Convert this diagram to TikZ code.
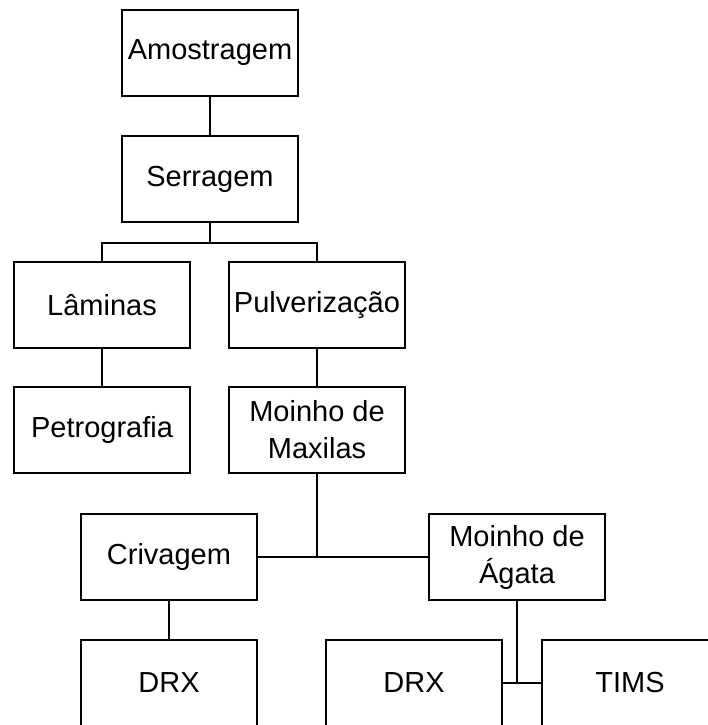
\documentclass[tikz,border=0pt]{standalone}
\usepackage{fontspec}
\setmainfont{Liberation Sans}

\begin{document}
\begin{tikzpicture}[x=1pt, y=-1pt,
        etapa/.style={draw, line width=1.6pt, fill=white,
            minimum width=176pt, minimum height=86pt, align=center,
            inner sep=2pt, font=\fontsize{29}{37}\selectfont},
        liga/.style={line width=1.6pt}]
      \useasboundingbox (0,0) rectangle (707,725);
      \node[etapa] (amo)   at (210,53)  {Amostragem};
      \node[etapa] (serr)  at (210,179) {Serragem};
      \node[etapa] (lam)   at (102,305) {Lâminas};
      \node[etapa] (pulv)  at (317,305) {Pulverização};
      \node[etapa] (petro) at (102,430) {Petrografia};
      \node[etapa] (maxi)  at (317,430) {Moinho de\\Maxilas};
      \node[etapa] (criv)  at (169,557) {Crivagem};
      \node[etapa] (agata) at (517,557) {Moinho de\\Ágata};
      \node[etapa] (drxa)  at (169,683) {DRX};
      \node[etapa] (drxb)  at (414,683) {DRX};
      \node[etapa] (tims)  at (630,683) {TIMS};
      % branching points of the tree
      \coordinate (ramo) at (serr.south |- 0,243);
      \draw[liga] (amo) -- (serr);
      \draw[liga] (serr.south) -- (ramo);
      \draw[liga] (lam.north) |- (ramo) -| (pulv.north);
      \draw[liga] (lam) -- (petro);
      \draw[liga] (pulv) -- (maxi);
      \draw[liga] (criv.east) -- (agata.west);
      \draw[liga] (maxi.south) -- (maxi.south |- criv.east);
      \draw[liga] (criv) -- (drxa);
      \draw[liga] (drxb.east) -- (tims.west);
      \draw[liga] (agata.south) -- (agata.south |- drxb.east);
\end{tikzpicture}
\end{document}
